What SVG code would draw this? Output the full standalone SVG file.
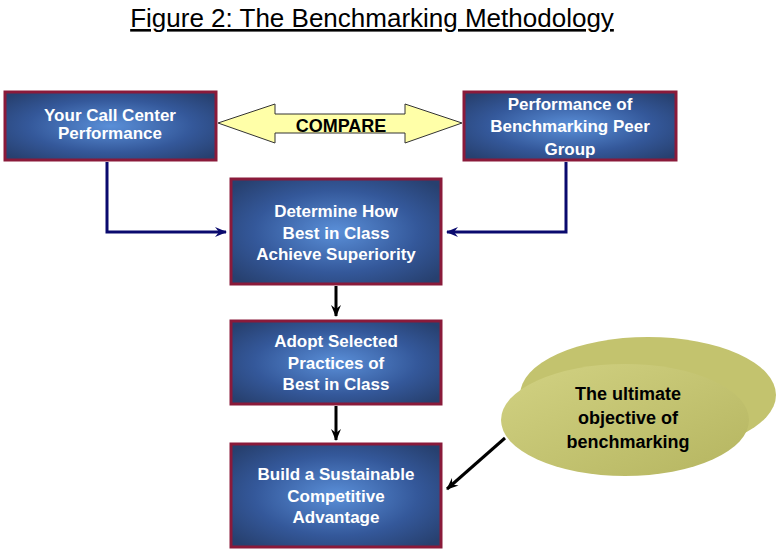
<svg xmlns="http://www.w3.org/2000/svg" width="782" height="559" viewBox="0 0 782 559">
<defs>
<radialGradient id="bg" cx="50%" cy="50%" r="65%"><stop offset="0" stop-color="#5a8fd8"/><stop offset="0.6" stop-color="#34589a"/><stop offset="1" stop-color="#27406f"/></radialGradient>
<linearGradient id="eg" x1="0" y1="0" x2="1" y2="1"><stop offset="0" stop-color="#d2d283"/><stop offset="1" stop-color="#b5b560"/></linearGradient>
<marker id="ab" markerWidth="12" markerHeight="10" refX="11" refY="5" orient="auto" markerUnits="userSpaceOnUse"><path d="M0,0 L12,5 L0,10 L4,5 Z" fill="#0a0a6e"/></marker>
<marker id="ak" markerWidth="12" markerHeight="10" refX="11" refY="5" orient="auto" markerUnits="userSpaceOnUse"><path d="M0,0 L12,5 L0,10 L4,5 Z" fill="#000"/></marker>
<style>
.box{fill:url(#bg);stroke:#8a1a3a;stroke-width:3}
.bt{font-family:"Liberation Sans",Arial,sans-serif;font-weight:bold;font-size:17px;fill:#fff;text-anchor:middle}
.kt{font-family:"Liberation Sans",Arial,sans-serif;font-weight:bold;font-size:18px;fill:#000;text-anchor:middle}
</style>
</defs>
<rect width="782" height="559" fill="#fff"/>
<text x="372" y="27" font-family="Liberation Sans,Arial,sans-serif" font-size="26" text-anchor="middle" text-decoration="underline">Figure 2: The Benchmarking Methodology</text>
<g id="connectors" fill="none" stroke-width="3">
<path d="M107,162 V232 H226" stroke="#0a0a6e" marker-end="url(#ab)"/>
<path d="M566,162 V232 H447" stroke="#0a0a6e" marker-end="url(#ab)"/>
<path d="M336,286 V316" stroke="#000" marker-end="url(#ak)"/>
<path d="M336,406 V440" stroke="#000" marker-end="url(#ak)"/>
<path d="M505,438 L447,489" stroke="#000" marker-end="url(#ak)"/>
</g>
<g id="compare">
<path d="M218,123 L275,104 V114 H405 V104 L462,123 L405,143 V133 H275 V143 Z" fill="#ffffa8" stroke="#333" stroke-width="1"/>
<text x="341" y="132" class="kt" font-size="16">COMPARE</text>
</g>
<g id="n1"><rect class="box" x="5" y="92" width="211" height="68"/>
<text class="bt" x="110" y="121">Your Call Center</text><text class="bt" x="110" y="139">Performance</text></g>
<g id="n2"><rect class="box" x="464" y="92" width="212" height="68"/>
<text class="bt" x="570" y="110">Performance of</text><text class="bt" x="570" y="132">Benchmarking Peer</text><text class="bt" x="570" y="155">Group</text></g>
<g id="n3"><rect class="box" x="231" y="179" width="210" height="105"/>
<text class="bt" x="336" y="217">Determine How</text><text class="bt" x="336" y="239">Best in Class</text><text class="bt" x="336" y="260">Achieve Superiority</text></g>
<g id="n4"><rect class="box" x="231" y="321" width="210" height="83"/>
<text class="bt" x="336" y="347">Adopt Selected</text><text class="bt" x="336" y="369">Practices of</text><text class="bt" x="336" y="390">Best in Class</text></g>
<g id="n5"><rect class="box" x="231" y="444" width="210" height="103"/>
<text class="bt" x="336" y="480">Build a Sustainable</text><text class="bt" x="336" y="502">Competitive</text><text class="bt" x="336" y="523">Advantage</text></g>
<g id="ellipse">
<ellipse cx="648" cy="395" rx="128" ry="58" fill="#c3c36e"/>
<ellipse cx="625" cy="420" rx="124" ry="56" fill="url(#eg)"/>
<text class="kt" x="628" y="400">The ultimate</text><text class="kt" x="628" y="424">objective of</text><text class="kt" x="628" y="448">benchmarking</text>
</g>
</svg>
